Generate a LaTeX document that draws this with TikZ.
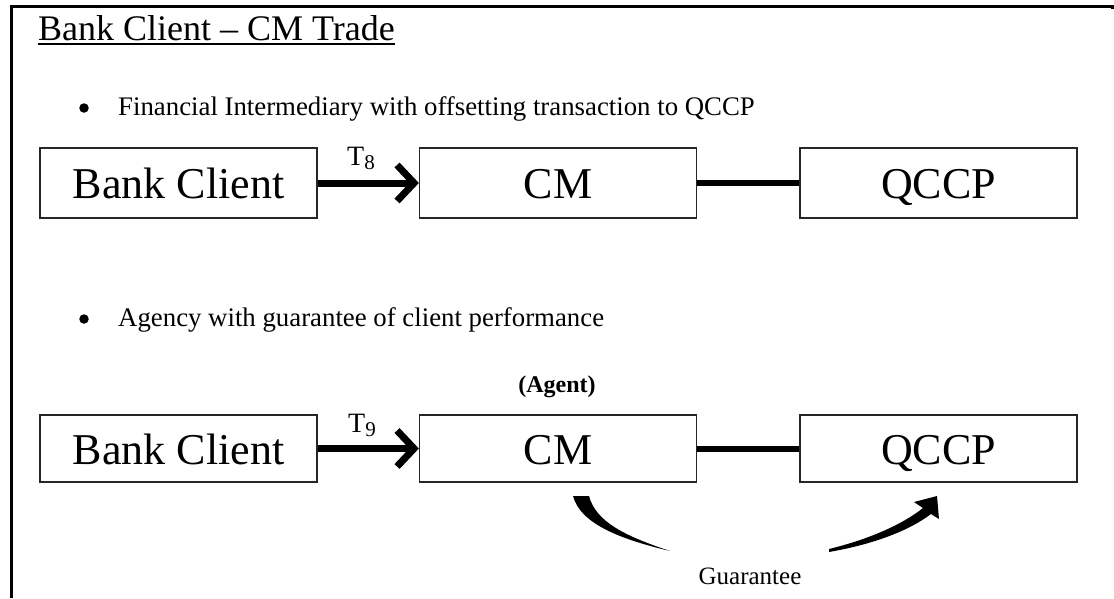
\documentclass[tikz,border=0pt]{standalone}
\usepackage{fontspec}
\setmainfont{Liberation Serif}
\usetikzlibrary{arrows.meta}
\begin{document}
\begin{tikzpicture}[x=1pt,y=-1pt,
  txt/.style={inner sep=0pt, anchor=base west},
  bigbox/.style={draw=black!85, line width=1.3pt, minimum width=277pt, inner sep=0pt,
     text height=31pt, text depth=0pt, font=\fontsize{44}{44}\selectfont},
  bigarrow/.style={line width=7pt, -{Straight Barb[length=17pt,width=36pt]}},
  link/.style={line width=6pt},
  tlabel/.style={font=\fontsize{28}{28}\selectfont, inner sep=0pt, anchor=base},
  bul/.style={circle, fill=black, inner sep=0pt, minimum size=9.5pt}
]
\useasboundingbox (0,0) rectangle (1114,598);
% frame
\draw[line width=3pt] (11,598) -- (11,6) -- (1112.5,6) -- (1112.5,9);
% title
\node[txt, font=\fontsize{36}{40}\selectfont] (title) at (38,40) {Bank Client – CM Trade};
\draw[line width=1.6pt] ([yshift=-4pt]title.base west) -- ([yshift=-4pt]title.base east);
% bullet 1
\node[bul] (b1) at (84,108) {};
\node[txt, font=\fontsize{26.8}{30}\selectfont] (l1) at (118,115) {Financial Intermediary with offsetting transaction to QCCP};
% row 1
\node[bigbox, minimum height=70pt] (bc1) at (178.5,183) {Bank Client};
\node[bigbox, minimum height=70pt] (cm1) at (558,183) {CM};
\node[bigbox, minimum height=70pt] (q1) at (938.5,183) {QCCP};
\draw[bigarrow] (bc1.east) -- (cm1.west);
\node[tlabel] (t8) at (361,165) {T\raisebox{-0.35ex}{\fontsize{21}{21}\selectfont 8}};
\draw[link] (cm1) -- (q1);
% bullet 2
\node[bul] (b2) at (84,319) {};
\node[txt, font=\fontsize{26.8}{30}\selectfont] (l2) at (118,326) {Agency with guarantee of client performance};
% row 2
\node[font=\bfseries\fontsize{24}{24}\selectfont, inner sep=0pt] (agent) at (557,387) {(Agent)};
\node[bigbox, minimum height=67pt] (bc2) at (178.5,448.5) {Bank Client};
\node[bigbox, minimum height=67pt] (cm2) at (558,448.5) {CM};
\node[bigbox, minimum height=67pt] (q2) at (938.5,448.5) {QCCP};
\draw[bigarrow] (bc2.east) -- (cm2.west);
\node[tlabel] (t9) at (362,432) {T\raisebox{-0.35ex}{\fontsize{21}{21}\selectfont 9}};
\draw[link] (cm2) -- (q2);
% guarantee
\node[font=\fontsize{25}{25}\selectfont, inner sep=0pt] (guar) at (750,576) {Guarantee};
\fill (573,496) .. controls (580,522) and (615,538) .. (670,551)
      .. controls (625,536) and (596,522) .. (589,496) -- cycle;
\fill (829,552) .. controls (875,544) and (910,530) .. (931,514) -- (939,519) -- (937,496)
      -- (914,502) -- (923,508) .. controls (903,524) and (870,539) .. (829,549) -- cycle;
\end{tikzpicture}
\end{document}
